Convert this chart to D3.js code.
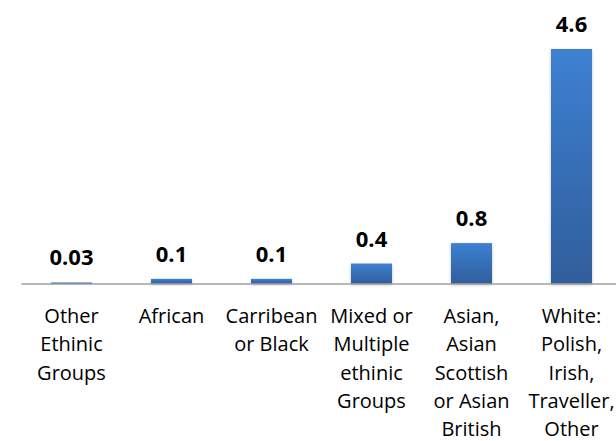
<!DOCTYPE html>
<html>
<head>
<meta charset="utf-8">
<script src="https://cdn.jsdelivr.net/npm/d3@7"></script>
<style>
  html, body { margin: 0; padding: 0; background: #fff; }
  svg { display: block; }
</style>
</head>
<body>
<svg id="chart" width="616" height="441"></svg>
<script>
// Ethnic group breakdown
const categories = [
  "Other Ethinic Groups",
  "African",
  "Carribean or Black",
  "Mixed or Multiple ethinic Groups",
  "Asian, Asian Scottish or Asian British",
  "White: Polish, Irish, Traveller, Other"
];
const categoryLines = [
  ["Other", "Ethinic", "Groups"],
  ["African"],
  ["Carribean", "or Black"],
  ["Mixed or", "Multiple", "ethinic", "Groups"],
  ["Asian,", "Asian", "Scottish", "or Asian", "British"],
  ["White:", "Polish,", "Irish,", "Traveller,", "Other"]
];
const values = [0.03, 0.1, 0.1, 0.4, 0.8, 4.6];
const valueLabels = ["0.03", "0.1", "0.1", "0.4", "0.8", "4.6"];

const svg = d3.select("#chart");
const baseY = 284;

const x = d3.scaleBand()
  .domain(categories)
  .range([21.5, 621.5])
  .paddingInner(0.59)
  .paddingOuter(0.295);

const y = d3.scaleLinear()
  .domain([0, 4.6])
  .range([baseY, 49]);

const defs = svg.append("defs");
const grad = defs.append("linearGradient")
  .attr("id", "barGrad")
  .attr("x1", 0).attr("y1", 0).attr("x2", 0).attr("y2", 1);
grad.append("stop").attr("offset", "0%").attr("stop-color", "#3d80d2");
grad.append("stop").attr("offset", "100%").attr("stop-color", "#2f5e9b");

const shadow = defs.append("filter")
  .attr("id", "barShadow")
  .attr("x", "-30%").attr("y", "-10%").attr("width", "160%").attr("height", "130%");
shadow.append("feDropShadow")
  .attr("dx", 0).attr("dy", 1).attr("stdDeviation", 1.5)
  .attr("flood-color", "#000").attr("flood-opacity", 0.25);

// bars
svg.append("g")
  .selectAll("rect")
  .data(values)
  .join("rect")
  .attr("x", (d, i) => x(categories[i]))
  .attr("y", d => y(d))
  .attr("width", x.bandwidth())
  .attr("height", d => baseY - y(d))
  .attr("fill", "url(#barGrad)")
  .attr("filter", "url(#barShadow)");

// baseline axis
svg.append("line")
  .attr("x1", 21.5).attr("x2", 616)
  .attr("y1", baseY).attr("y2", baseY)
  .attr("stroke", "#a0a0a0")
  .attr("stroke-width", 1.5);

// value labels
svg.append("g")
  .selectAll("text")
  .data(values)
  .join("text")
  .attr("x", (d, i) => x(categories[i]) + x.bandwidth() / 2)
  .attr("y", d => y(d) - 17)
  .attr("text-anchor", "middle")
  .attr("font-family", "'Open Sans', sans-serif")
  .attr("font-weight", "bold")
  .attr("font-size", 22)
  .attr("fill", "#000")
  .text((d, i) => valueLabels[i]);

// category labels
const cat = svg.append("g")
  .selectAll("text")
  .data(categories)
  .join("text")
  .attr("text-anchor", "middle")
  .attr("font-family", "'Open Sans', sans-serif")
  .attr("font-size", 20)
  .attr("fill", "#000")
  .attr("transform", d => `translate(${x(d) + x.bandwidth() / 2},323)`);

cat.selectAll("tspan")
  .data((d, i) => categoryLines[i])
  .join("tspan")
  .attr("x", 0)
  .attr("y", (d, j) => j * 28.25)
  .text(d => d);
</script>
</body>
</html>
